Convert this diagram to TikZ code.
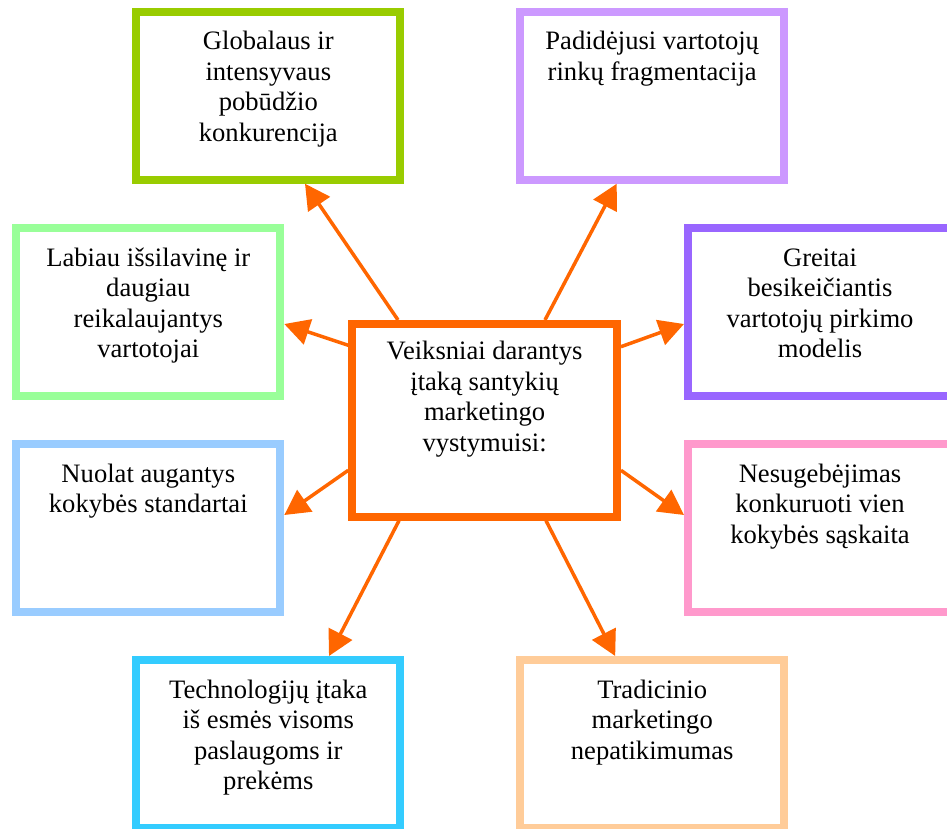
\documentclass[tikz,border=0pt]{standalone}
\usepackage{fontspec}
\setmainfont{Liberation Serif}
\usetikzlibrary{arrows.meta}
\definecolor{cGreen}{HTML}{99CC00}
\definecolor{cLilac}{HTML}{CC99FF}
\definecolor{cMint}{HTML}{99FF99}
\definecolor{cViolet}{HTML}{9966FF}
\definecolor{cSky}{HTML}{99CCFF}
\definecolor{cPink}{HTML}{FF99CC}
\definecolor{cCyan}{HTML}{33CCFF}
\definecolor{cPeach}{HTML}{FFCC99}
\definecolor{cOrange}{HTML}{FF6600}
\begin{document}
\begin{tikzpicture}[x=1pt,y=-1pt,
  box/.style={draw=#1, line width=8pt, minimum width=264pt, minimum height=168pt, inner sep=0pt, fill=white},
  core/.style={draw=cOrange, line width=8pt, minimum width=264.7pt, minimum height=192.7pt, inner sep=0pt, fill=white},
  % the base anchor of a multi-line label is its last baseline
  txt/.style={anchor=base, align=center, inner sep=0pt, font=\fontsize{26.6}{30.5}\selectfont},
  arr/.style={draw=cOrange, line width=3.5pt, -{Triangle[length=25pt,width=26pt]}}]
\path[use as bounding box] (0,0) rectangle (947,828);
\clip (0,0) rectangle (947,828);

% boxes
\node[core] (c) at (484.6,420.3) {};
\node[box=cGreen]  (g)  at (268.3,95.7) {};
\node[box=cLilac]  (lp) at (652.2,95.7) {};
\node[box=cMint]   (lg) at (148.3,312) {};
\node[box=cViolet] (pu) at (820,312) {};
\node[box=cSky]    (bl) at (148.3,528) {};
\node[box=cPink]   (pk) at (820,528) {};
\node[box=cCyan]   (cy) at (268.3,744) {};
\node[box=cPeach]  (pe) at (652.2,744) {};

% labels (shift = first baseline + further lines)
\node[txt] (tc)  at ([yshift=-131.5pt]c.north) {Veiksniai darantys\\įtaką santykių\\marketingo\\vystymuisi:};
\node[txt] (tg)  at ([yshift=-133.5pt]g.north)  {Globalaus ir\\intensyvaus\\pobūdžio\\konkurencija};
\node[txt] (tlp) at ([yshift=-72.5pt]lp.north)  {Padidėjusi vartotojų\\rinkų fragmentacija};
\node[txt] (tlg) at ([yshift=-133.5pt]lg.north) {Labiau išsilavinę ir\\daugiau\\reikalaujantys\\vartotojai};
\node[txt] (tpu) at ([yshift=-133.5pt]pu.north) {Greitai\\besikeičiantis\\vartotojų pirkimo\\modelis};
\node[txt] (tbl) at ([yshift=-72.5pt]bl.north)  {Nuolat augantys\\kokybės standartai};
\node[txt] (tpk) at ([yshift=-103pt]pk.north)   {Nesugebėjimas\\konkuruoti vien\\kokybės sąskaita};
\node[txt] (tcy) at ([yshift=-133.5pt]cy.north) {Technologijų įtaka\\iš esmės visoms\\paslaugoms ir\\prekėms};
\node[txt] (tpe) at ([yshift=-103pt]pe.north)   {Tradicinio\\marketingo\\nepatikimumas};

% connectors
\draw[arr] ([xshift=-86.6pt]c.north) -- ([xshift=36.7pt]g.south);
\draw[arr] ([xshift=60.4pt]c.north)  -- ([xshift=-35.5pt]lp.south);
\draw[arr] ([yshift=75pt]c.west)     -- ([yshift=-12pt]lg.east);
\draw[arr] ([yshift=73.6pt]c.east)   -- ([yshift=-12pt]pu.west);
\draw[arr] ([yshift=-50pt]c.west)    -- ([yshift=13pt]bl.east);
\draw[arr] ([yshift=-50pt]c.east)    -- ([yshift=13pt]pk.west);
\draw[arr] ([xshift=-85.6pt]c.south) -- ([xshift=60.7pt]cy.north);
\draw[arr] ([xshift=61.4pt]c.south)  -- ([xshift=-37pt]pe.north);
\end{tikzpicture}
\end{document}
